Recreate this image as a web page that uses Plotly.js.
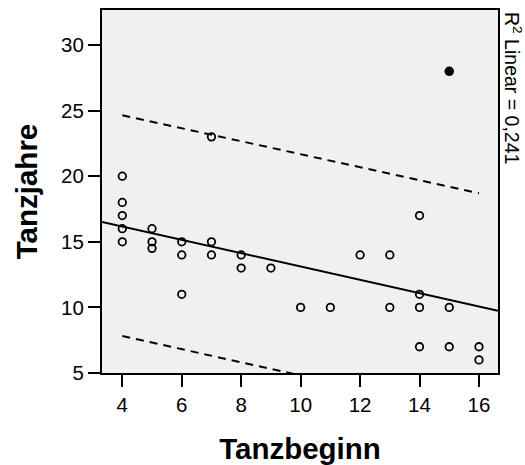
<!DOCTYPE html>
<html>
<head>
<meta charset="utf-8">
<script src="https://cdn.plot.ly/plotly-3.0.1.min.js"></script>
<style>
  html, body { margin: 0; padding: 0; background: #ffffff; }
  #chart { width: 525px; height: 465px; }
</style>
</head>
<body>
<div id="chart"></div>
<script>
// Observed cases (open circles)
var tanzbeginn = [4, 4, 4, 4, 4, 5, 5, 5, 6, 6, 6, 7, 7, 7, 8, 8, 9, 10, 11, 12, 13, 13, 14, 14, 14, 14, 15, 15, 16, 16];
var tanzjahre  = [20, 18, 17, 16, 15, 16, 15, 14.5, 15, 14, 11, 23, 15, 14, 14, 13, 13, 10, 10, 14, 14, 10, 17, 11, 10, 7, 10, 7, 7, 6];

// Highlighted case (filled circle)
var markedX = [15];
var markedY = [28];

// Linear fit line
var fitX = [3.317, 16.64];
var fitY = [16.52, 9.74];

// Prediction interval bounds
var upperX = [4, 16];
var upperY = [24.65, 18.7];
var lowerX = [4, 16];
var lowerY = [7.82, 1.8];

var xTicks = [4, 6, 8, 10, 12, 14, 16];
var yTicks = [5, 10, 15, 20, 25, 30];

var annotationText = 'R<sup>2</sup> Linear = 0,241';

var FONT = 'Liberation Sans, Arial, Helvetica, sans-serif';

var traces = [
  {
    x: fitX, y: fitY, type: 'scatter', mode: 'lines',
    line: { color: '#000000', width: 2 }, hoverinfo: 'skip'
  },
  {
    x: upperX, y: upperY, type: 'scatter', mode: 'lines',
    line: { color: '#000000', width: 2, dash: '8px,6px' }, hoverinfo: 'skip'
  },
  {
    x: lowerX, y: lowerY, type: 'scatter', mode: 'lines',
    line: { color: '#000000', width: 2, dash: '8px,6px' }, hoverinfo: 'skip'
  },
  {
    x: tanzbeginn, y: tanzjahre, type: 'scatter', mode: 'markers',
    marker: { symbol: 'circle-open', size: 7.5, color: '#000000', line: { color: '#000000', width: 1.8 } },
    cliponaxis: false
  },
  {
    x: markedX, y: markedY, type: 'scatter', mode: 'markers',
    marker: { symbol: 'circle', size: 9.5, color: '#000000' }
  }
];

var axisCommon = {
  showgrid: false,
  zeroline: false,
  showline: true,
  mirror: true,
  linecolor: '#000000',
  linewidth: 2,
  ticks: 'outside',
  ticklen: 12,
  tickwidth: 2,
  tickcolor: '#000000',
  tickfont: { family: FONT, size: 20.5, color: '#000000' }
};

var layout = {
  width: 525,
  height: 465,
  margin: { l: 102, r: 27, t: 10, b: 92 },
  paper_bgcolor: '#ffffff',
  plot_bgcolor: '#f0f0f0',
  showlegend: false,
  xaxis: Object.assign({}, axisCommon, {
    range: [3.317, 16.64],
    tickmode: 'array', tickvals: xTicks,
    title: { text: 'Tanzbeginn', font: { family: FONT, size: 29.5, color: '#000000', weight: 'bold' }, standoff: 25 }
  }),
  yaxis: Object.assign({}, axisCommon, {
    range: [5, 32.67],
    tickmode: 'array', tickvals: yTicks,
    title: { text: 'Tanzjahre', font: { family: FONT, size: 29.5, color: '#000000', weight: 'bold' }, standoff: 15 }
  }),
  annotations: [
    {
      text: annotationText,
      xref: 'paper', yref: 'paper',
      x: 1, y: 1,
      xanchor: 'left', yanchor: 'top',
      xshift: 1,
      textangle: 90,
      showarrow: false,
      font: { family: FONT, size: 19.5, color: '#000000' }
    }
  ]
};

Plotly.newPlot('chart', traces, layout, { staticPlot: true, displayModeBar: false });
</script>
</body>
</html>
